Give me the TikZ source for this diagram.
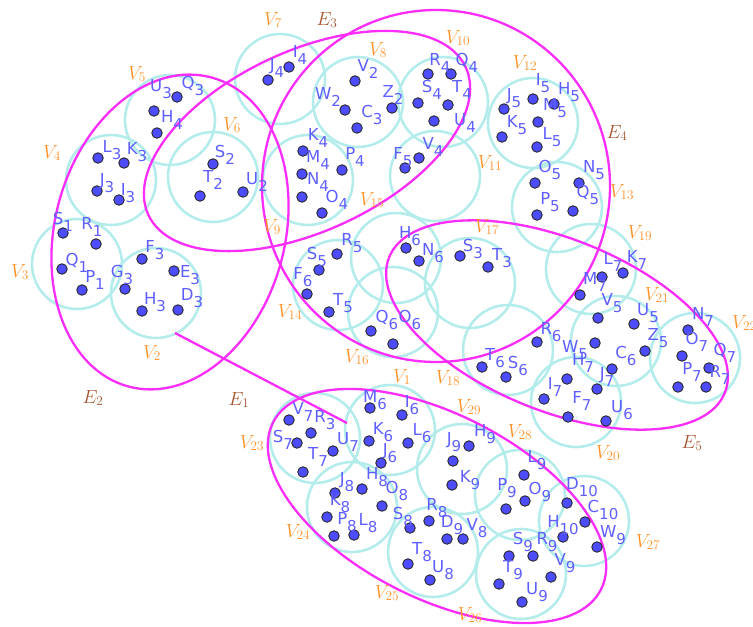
\documentclass[tikz,border=0pt]{standalone}
\usepackage{fix-cm}
\usepackage{fontspec}
\newfontfamily\lblfont{DejaVu Sans}
\definecolor{cyanc}{RGB}{180,236,236}
\definecolor{magc}{RGB}{250,45,250}
\definecolor{ptfill}{RGB}{77,77,255}
\definecolor{ptdraw}{RGB}{40,40,40}
\definecolor{lblc}{RGB}{95,95,255}
\definecolor{vlc}{RGB}{255,145,40}
\definecolor{elc}{RGB}{165,85,45}
\newcommand\lsub[1]{\raisebox{-7.5pt}{\fontsize{15}{15}\selectfont #1}}
\begin{document}
\begin{tikzpicture}[x=1pt,y=-1pt,
  vc/.style={draw=cyanc, line width=2.6pt},
  ell/.style={draw=magc, line width=2.3pt},
  pt/.style={circle, fill=ptfill, draw=ptdraw, line width=0.9pt, minimum size=10.5pt, inner sep=0pt},
  pl/.style={text=lblc, font=\lblfont\fontsize{16.5}{16.5}\selectfont, inner sep=0pt},
  vl/.style={text=vlc, font=\fontsize{19}{19}\selectfont, inner sep=0pt},
  el/.style={text=elc, font=\fontsize{19}{19}\selectfont, inner sep=0pt}]
\useasboundingbox (0,0) rectangle (753,627);
% cyan circles
\foreach \cx/\cy in {156/293,77/264,111/180,170/120,213/177,280/79,358/102,308/180,443/102,435/176,533/123,557/207,591/269,616/341,695/358,576/402,508/350,470/283,396/258,338/285,393/312,315/438,390/430,352/507,433/552,462/469,520/495,584/521,521/574}
  \draw[vc] (\cx,\cy) circle[radius=45];
% hyperedges
\draw[ell, rotate around={75:(170,232)}] (170,232) ellipse[x radius=160, y radius=115];
\draw[ell, rotate around={25:(307,141)}] (307,141) ellipse[x radius=175, y radius=90];
\draw[ell] (436,186) ellipse[x radius=174, y radius=176];
\draw[ell, rotate around={-22:(557,325)}] (557,325) ellipse[x radius=181, y radius=86];
\draw[ell, rotate around={-27:(437,506)}] (437,506) ellipse[x radius=184, y radius=92];
\coordinate (e1a) at (175,333);
\coordinate (e1b) at (347,423);
\draw[ell] (e1a) -- (e1b);
% points
\foreach \px/\py [count=\i] in {177/97,154/111,157/133,
98/158,124/163,97/191,119/200,
213/164,200/196,243/192,
63/233,96/244,62/269,82/290,
142/259,174/271,125/289,142/311,178/310,
289/67,268/80,
355/81,345/110,392/108,357/128,
303/151,302/174,302/197,342/170,322/213,
428/74,451/74,418/103,448/105,434/121,
405/168,419/158,
504/109,533/99,554/104,538/122,502/137,537/147,
535/183,579/183,573/211,537/215,
623/273,602/277,580/295,
598/318,634/324,595/343,645/351,612/369,
688/330,682/356,709/368,678/387,706/387,
567/379,597/389,544/399,568/417,606/421,
537/342,482/367,506/377,
460/256,488/267,
406/248,419/261,
337/254,319/270,307/294,329/312,
371/331,393/344,
289/420,311/433,297/443,333/451,303/472,
370/408,402/415,369/441,408/443,381/463,
362/489,335/493,382/506,327/517,334/536,354/535,
410/528,429/521,447/539,463/539,408/564,430/580,
469/446,453/461,452/485,
524/475,525/501,506/509,
567/503,585/522,563/537,597/547,
509/556,533/556,551/577,499/584,522/602}
  \node[pt] (q\i) at (\px,\py) {};
% point labels
\foreach \px/\py/\pa/\pb in {161/89/U/3,193/86/Q/3,172/120/H/4,
112/150/L/3,137/152/K/3,107/183/J/3,128/193/I/3,
225/155/S/2,213/180/T/2,257/182/U/2,
63/222/S/1,92/227/R/1,77/263/Q/1,95/280/P/1,
155/250/F/3,122/275/G/3,190/275/E/3,155/302/H/3,192/298/D/3,
300/55/I/4,277/68/J/4,
368/69/V/2,328/97/W/2,393/95/Z/2,372/115/C/3,
440/63/R/4,467/63/Q/4,432/90/S/4,462/90/T/4,465/123/U/4,
318/138/K/4,318/160/M/4,355/157/P/4,318/182/N/4,337/200/O/4,
403/157/F/5,433/147/V/4,
543/83/I/5,569/92/H/5,514/98/J/5,555/108/M/5,517/125/K/5,552/137/L/5,
550/170/O/5,594/170/N/5,588/195/Q/5,550/202/P/5,
613/262/L/7,637/260/K/7,595/282/M/7,
612/303/V/5,648/313/U/5,658/338/Z/5,575/350/W/5,626/356/C/6,
583/363/H/7,607/377/J/7,555/387/I/7,582/401/F/7,622/410/U/6,
703/317/N/7,697/342/O/7,725/353/Q/7,692/372/P/7,720/375/R/7,
551/332/R/6,495/358/T/6,518/366/S/6,
473/249/S/3,502/258/T/3,
410/236/H/6,433/253/N/6,
317/257/S/5,352/243/R/5,303/277/F/6,343/303/T/5,
387/320/Q/6,410/320/O/6,
303/412/V/7,325/420/R/3,348/442/U/7,283/440/S/7,318/457/T/7,
375/400/M/6,412/405/I/6,383/432/K/6,422/433/L/6,390/453/J/6,
347/482/J/8,377/477/H/8,397/491/O/8,340/503/K/8,403/517/S/8,347/522/P/8,368/523/L/8,
437/508/R/8,452/525/D/9,477/528/V/8,422/552/T/8,443/570/U/8,
454/442/J/9,485/434/H/9,470/480/K/9,
537/460/L/9,507/488/P/9,540/492/O/9,
582/487/D/10,603/510/C/10,563/525/H/10,613/535/W/9,
523/542/S/9,547/542/R/9,565/563/V/9,513/570/T/9,537/592/U/9}
  \node[pl] (l\pa\pb) at (\px,\py) {\pa\lsub{\pb}};
% vertex-set labels
\foreach \px/\py/\pb in {402/377/1,152/353/2,20/272/3,52/153/4,137/74/5,232/125/6,273/20/7,378/50/8,272/227/9,458/38/10,
490/163/11,525/63/12,622/192/13,290/312/14,372/200/15,357/357/16,487/227/17,448/378/18,640/233/19,608/453/20,
657/295/21,252/443/23,298/532/24,387/593/25,470/615/26,648/542/27,520/432/28,469/407/29}
  \node[vl] (cV\pb) at (\px,\py) {$V_{\pb}$};
\node[vl, anchor=west] (cV22) at (732,323) {$V_{22}$};
% hyperedge labels
\foreach \px/\py/\pb in {239/400/1,93/398/2,327/20/3,617/133/4,692/443/5}
  \node[el] (eE\pb) at (\px,\py) {$E_{\pb}$};
\end{tikzpicture}
\end{document}
